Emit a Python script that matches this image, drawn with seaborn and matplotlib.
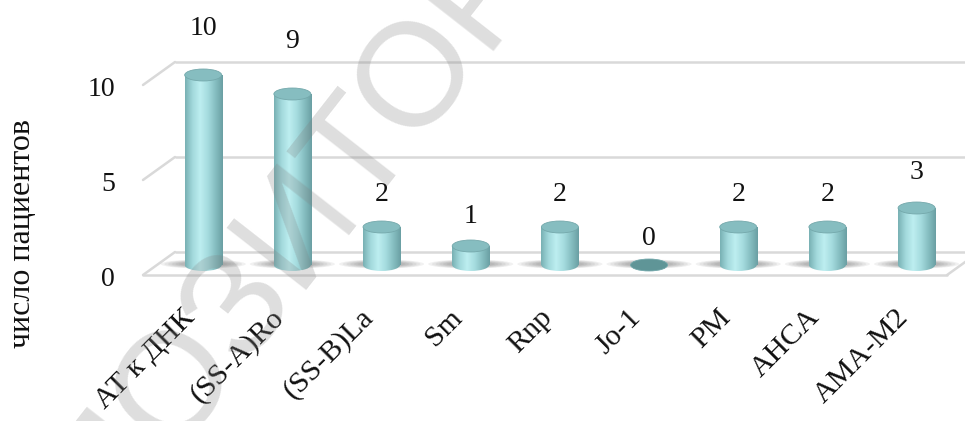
import numpy as np
import matplotlib
matplotlib.use("Agg")
import matplotlib.pyplot as plt
import matplotlib.transforms as mtransforms
from matplotlib.patches import Ellipse, Rectangle
from matplotlib.colors import LinearSegmentedColormap
import pandas as pd
import seaborn as sns

# --- data -------------------------------------------------------------
categories = ["АТ к ДНК", "(SS-A)Ro", "(SS-B)La", "Sm", "Rnp", "Jo-1", "PM", "AHCA", "AMA-M2"]
patients = [10, 9, 2, 1, 2, 0, 2, 2, 3]
y_ticks = [0, 5, 10]
y_label = "число пациентов"
watermark = "РЕПОЗИТОРИЙ"

# --- style ------------------------------------------------------------
sns.set_theme(style="white")
plt.rcParams["font.family"] = ["Liberation Serif", "DejaVu Serif"]

W, H = 965, 421
fig = plt.figure(figsize=(W / 100, H / 100), dpi=100)
ax = fig.add_axes([143 / W, (H - 290) / H, (W - 143) / W, 290 / H])

df = pd.DataFrame({"antibody": categories, "count": patients})
sns.barplot(data=df, x="antibody", y="count", ax=ax, width=0.415,
            color="#8cc8cb", saturation=1)

XLIM = (-0.675, 8.543)
YLIM = (-1.316, 13.947)
ax.set_xlim(*XLIM)
ax.set_ylim(*YLIM)
for s in ax.spines.values():
    s.set_visible(False)
ax.grid(False)

# --- pseudo-3D floor and back-wall gridlines -------------------------
grid_c = "#d9d9d9"
back_off, front_off = 0.684, -0.526
x_front_l, x_back_l = -0.675, -0.316
x_front_r, x_back_r = 8.342, 8.701
for t in y_ticks:
    ax.plot([x_back_l, XLIM[1] + 0.5], [t + back_off] * 2, color=grid_c, lw=1.8,
            zorder=0.5, clip_on=False, solid_capstyle="butt")
    ax.plot([x_front_l, x_back_l], [t + front_off, t + back_off], color=grid_c,
            lw=1.8, zorder=0.5, clip_on=False)
ax.plot([x_front_l, x_front_r], [y_ticks[0] + front_off] * 2, color=grid_c,
        lw=1.8, zorder=0.5, clip_on=False)
ax.plot([x_front_r, x_back_r], [y_ticks[0] + front_off, y_ticks[0] + back_off],
        color=grid_c, lw=1.8, zorder=0.5)

# --- cylinders --------------------------------------------------------
body_cmap = LinearSegmentedColormap.from_list(
    "cyl", ["#78b0b3", "#a2d9dc", "#bdeef0", "#a6dcdf", "#86bec1", "#6a9fa3"])
grad = np.linspace(0, 1, 256).reshape(1, -1)
ell_h = 0.63  # cap height in data units

for patch, val in zip(ax.patches, patients):
    x0, w, h = patch.get_x(), patch.get_width(), patch.get_height()
    cx = x0 + w / 2
    patch.set_visible(False)

    # soft floor shadow
    for k in range(6):
        ax.add_patch(Ellipse((cx, 0.05), w * (2.3 - 0.2 * k), ell_h * (0.75 - 0.07 * k),
                             facecolor="#3a3a3a", edgecolor="none",
                             alpha=0.07, zorder=1))

    # body and rounded bottom
    if h > 0:
        im = ax.imshow(grad, extent=[x0, x0 + w, -ell_h / 2, h], aspect="auto",
                       cmap=body_cmap, zorder=2, interpolation="bilinear")
        im.set_clip_path(Rectangle((x0, 0), w, h, transform=ax.transData))
    im2 = ax.imshow(grad, extent=[x0, x0 + w, -ell_h / 2, ell_h / 2], aspect="auto",
                    cmap=body_cmap, zorder=2, interpolation="bilinear")
    im2.set_clip_path(Ellipse((cx, 0), w, ell_h, transform=ax.transData))

    # top cap
    cap_col = "#86bdc0" if h > 0 else "#5f9597"
    ax.add_patch(Ellipse((cx, h), w, ell_h, facecolor=cap_col,
                         edgecolor="#74a8ab", lw=0.6, zorder=3))

    # value label
    ax.text(cx, min(val * 1.15 + 1.42, 12.47), f"{val}", ha="center", va="center",
            fontsize=20, color="#111111", zorder=4)

ax.set_xlim(*XLIM)
ax.set_ylim(*YLIM)

# --- axes labels ------------------------------------------------------
ax.set_yticks([t - 0.63 for t in y_ticks])
ax.set_yticklabels([str(t) for t in y_ticks])
ax.tick_params(axis="y", length=0, pad=20, labelsize=20, labelcolor="#111111")

ax.set_xticks(range(len(categories)))
ax.set_xticklabels(categories)
ax.tick_params(axis="x", length=0, pad=17, labelsize=21.5, labelcolor="#111111")
shift = mtransforms.ScaledTranslation(-12 / 100, 0, fig.dpi_scale_trans)
for lab in ax.get_xticklabels():
    lab.set_rotation(45)
    lab.set_ha("right")
    lab.set_va("center")
    lab.set_rotation_mode("anchor")
    lab.set_transform(lab.get_transform() + shift)
ax.set_xlabel("")
ax.set_ylabel("")

fig.text(23 / W, 1 - 233 / H, y_label, rotation=90, ha="center", va="center",
         fontsize=23, color="#111111")

# repository watermark across the figure
fig.text(0.31, 0.47, watermark, rotation=52, ha="center", va="center",
         fontsize=106, color="#808080", alpha=0.26,
         family=["Liberation Sans", "DejaVu Sans"], zorder=10)

fig.savefig("out.png", dpi=100, facecolor="white")
